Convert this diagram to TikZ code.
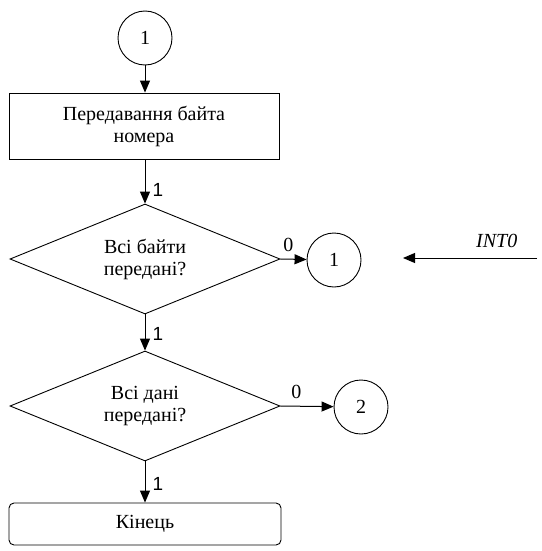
\documentclass[tikz,border=0pt]{standalone}
\usepackage{fontspec}
\setmainfont{Liberation Serif}
\newfontfamily\digitfont{Liberation Sans}
\usetikzlibrary{shapes.geometric,arrows.meta}

\tikzset{
  flow/.style={draw,line width=1pt,-{Triangle[length=12pt,width=10pt]}},
  onode/.style={draw,circle,line width=0.9pt,minimum size=54pt,inner sep=0pt,font=\fontsize{20}{22}\selectfont},
  procbox/.style={draw,line width=0.9pt,minimum width=270pt,minimum height=66pt,align=center,font=\fontsize{20}{22}\selectfont},
  decision/.style={draw,diamond,aspect=2.45,line width=0.9pt,minimum width=270pt,minimum height=110pt,inner sep=0pt,align=center,font=\fontsize{20}{22}\selectfont},
  yes/.style={right,inner sep=0pt,xshift=7pt,font=\digitfont\fontsize{19}{20}\selectfont},
  no/.style={above,inner sep=0pt,yshift=7pt,font=\fontsize{20}{22}\selectfont}
}

\begin{document}
\begin{tikzpicture}[x=1pt,y=-1pt]
  \useasboundingbox (0,0) rectangle (541,551);
  % nodes
  \node [onode] (c1) at (145,38) {1};
  \node [procbox] (send) at (144,126) {Передавання байта\\номера};
  \node [decision] (allbytes) at (145,259) {Всі байти\\передані?};
  \node [onode] (c1r) at (334,260) {1};
  \node [decision] (alldata) at (145,406) {Всі дані\\передані?};
  \node [onode] (c2) at (361,407) {2};
  \node [procbox,rounded corners=5pt,minimum width=272pt,minimum height=42pt] (end) at (145,524) {Кінець};
  \coordinate (intsrc) at (537,258);
  \coordinate (inttip) at (403,258);
  % connectors
  \draw [flow] (c1) -- (c1 |- send.north);
  \draw [flow] (send.south -| allbytes) -- node [yes,pos=0.7] {1} (allbytes.north);
  \draw [flow] (allbytes.east) -- node [no,pos=0.3] {0} (c1r);
  \draw [flow] (allbytes.south) -- node [yes,pos=0.55] {1} (alldata.north);
  \draw [flow] (alldata.east) -- node [no,pos=0.3] {0} (c2);
  \draw [flow] (alldata.south) -- node [yes,pos=0.55] {1} (end.north -| alldata);
  \draw [flow] (intsrc) -- node [above,yshift=6pt,pos=0.3,font=\itshape\fontsize{20}{22}\selectfont] {INT0} (inttip);
\end{tikzpicture}
\end{document}
